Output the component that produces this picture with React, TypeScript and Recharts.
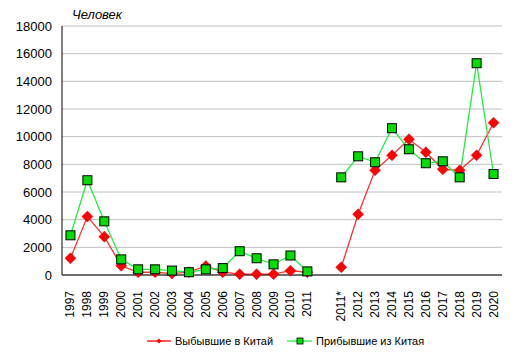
import React from "react";
import {
  CartesianGrid,
  Line,
  LineChart,
  XAxis,
  YAxis,
} from "recharts";

const years = [
  "1997", "1998", "1999", "2000", "2001", "2002", "2003", "2004", "2005",
  "2006", "2007", "2008", "2009", "2010", "2011", "", "2011*", "2012",
  "2013", "2014", "2015", "2016", "2017", "2018", "2019", "2020",
];

// выбывшие в Китай
const departed: (number | null)[] = [
  1210, 4220, 2770, 670, 200, 200, 100, 200, 650, 200, 60, 60, 60, 310, 200,
  null, 560, 4390, 7570, 8650, 9810, 8870, 7640, 7570, 8650, 11010,
];

// прибывшие из Китая
const arrived: (number | null)[] = [
  2870, 6850, 3880, 1130, 410, 410, 320, 200, 410, 500, 1720, 1210, 770, 1410, 260,
  null, 7060, 8580, 8150, 10610, 9090, 8080, 8220, 7060, 15310, 7300,
];

const yTicks = [0, 2000, 4000, 6000, 8000, 10000, 12000, 14000, 16000, 18000];

const data = years.map((year, i) => ({
  year,
  departed: departed[i],
  arrived: arrived[i],
}));

const FONT = "'Liberation Sans', Arial, sans-serif";

const Diamond = (props: any) => {
  const { cx, cy } = props;
  if (cx == null || cy == null || props.value == null) return null;
  const r = 5.5;
  return (
    <polygon
      points={`${cx},${cy - r} ${cx + r},${cy} ${cx},${cy + r} ${cx - r},${cy}`}
      fill="#ff0000"
      stroke="#dd0000"
      strokeWidth={0.5}
    />
  );
};

const Square = (props: any) => {
  const { cx, cy } = props;
  if (cx == null || cy == null || props.value == null) return null;
  return (
    <rect x={cx - 4.5} y={cy - 4.5} width={9} height={9} fill="#00dd00" stroke="#000" strokeWidth={1} />
  );
};

const YearTick = (props: any) => {
  const { x, y, payload } = props;
  return (
    <text
      x={0}
      y={0}
      transform={`translate(${x},${y + 8}) rotate(-90)`}
      textAnchor="end"
      dominantBaseline="central"
      fontFamily={FONT}
      fontSize={12}
      fill="#000"
    >
      {payload.value}
    </text>
  );
};

export default function App() {
  return (
    <div style={{ position: "absolute", left: 0, top: 0, width: 516, height: 358, background: "#fff" }}>
      <div
        style={{
          position: "absolute",
          left: 72,
          top: 7,
          fontFamily: FONT,
          fontStyle: "italic",
          fontSize: 13,
          color: "#000",
        }}
      >
        Человек
      </div>
      <LineChart
        width={516}
        height={358}
        data={data}
        margin={{ top: 26, right: 14, bottom: 43, left: 8 }}
      >
        <CartesianGrid vertical={false} stroke="#c0c0c0" />
        <XAxis
          dataKey="year"
          scale="band"
          interval={0}
          tickLine={false}
          axisLine={{ stroke: "#000" }}
          tick={<YearTick />}
          height={40}
        />
        <XAxis xAxisId="top" orientation="top" dataKey="year" scale="band" tick={false} tickLine={false} height={0} axisLine={{ stroke: "#808080" }} />
        <YAxis
          domain={[0, 18000]}
          ticks={yTicks}
          interval={0}
          tickLine={false}
          tickMargin={4}
          width={54}
          axisLine={{ stroke: "#000" }}
          tick={{ fontFamily: FONT, fontSize: 13, fill: "#000" }}
        />
        <YAxis yAxisId="right" orientation="right" domain={[0, 18000]} tick={false} tickLine={false} width={0} axisLine={{ stroke: "#808080" }} />
        <Line
          dataKey="departed"
          stroke="#ff3030"
          strokeWidth={1.3}
          dot={<Diamond />}
          activeDot={false}
          isAnimationActive={false}
          connectNulls={false}
        />
        <Line
          dataKey="arrived"
          stroke="#22ee44"
          strokeWidth={1.3}
          dot={<Square />}
          activeDot={false}
          isAnimationActive={false}
          connectNulls={false}
        />
      </LineChart>
      <div
        style={{
          position: "absolute",
          left: 0,
          top: 333,
          width: 516,
          height: 16,
        }}
      >
        <svg width={516} height={16} style={{ position: "absolute", left: 0, top: 0 }}>
          <line x1={147} y1={8} x2={171} y2={8} stroke="#ff0000" strokeWidth={1.3} />
          <polygon points="159,5.5 161.5,8 159,10.5 156.5,8" fill="#ff0000" />
          <line x1={287} y1={8} x2={312} y2={8} stroke="#22ee44" strokeWidth={1.3} />
          <rect x={297} y={5} width={6} height={6} fill="#00dd00" stroke="#000" strokeWidth={0.8} />
          <text x={175} y={8} dominantBaseline="central" fontFamily={FONT} fontSize={11} fill="#000">
            Выбывшие в Китай
          </text>
          <text x={316} y={8} dominantBaseline="central" fontFamily={FONT} fontSize={11} fill="#000">
            Прибывшие из Китая
          </text>
        </svg>
      </div>
    </div>
  );
}
